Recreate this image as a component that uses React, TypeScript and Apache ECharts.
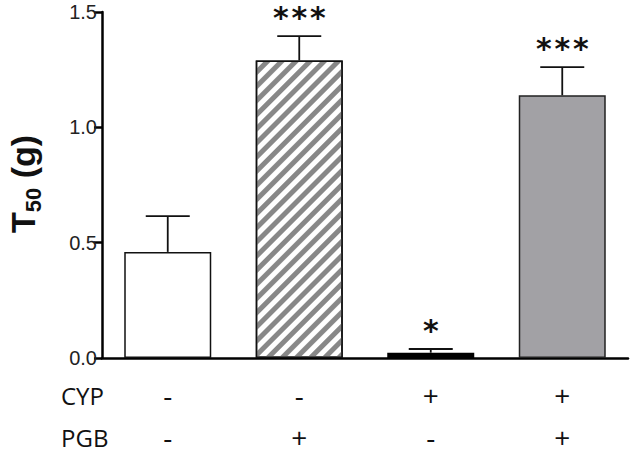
import React, { useEffect, useRef } from "react";
import * as echarts from "echarts";

const cypSigns = ["-", "-", "+", "+"];
const pgbSigns = ["-", "+", "-", "+"];
const rowLabels = ["CYP", "PGB"];
const meanValues = [0.46, 1.29, 0.023, 1.139];
const semValues = [0.155, 0.105, 0.016, 0.122];
const significance = ["", "***", "*", "***"];
const yTicks = [0, 0.5, 1.0, 1.5];

export default function App() {
  const ref = useRef<HTMLDivElement>(null);
  useEffect(() => {
    const chart = echarts.init(ref.current!, null, { renderer: "svg" });
    const categories = cypSigns.map((c, i) => c + "\n" + pgbSigns[i]);
    const barStyles = [
      { color: "#ffffff", borderColor: "#111", borderWidth: 1.5 },
      {
        color: "#ffffff",
        borderColor: "#111",
        borderWidth: 1.5,
        decal: {
          symbol: "rect",
          symbolSize: 1,
          dashArrayX: [1, 0],
          dashArrayY: [4.5, 5],
          rotation: -Math.PI / 4,
          color: "#888888",
        },
      },
      { color: "#000000", borderColor: "#000", borderWidth: 1.5 },
      { color: "#a2a1a5", borderColor: "#222", borderWidth: 1.5 },
    ];
    chart.setOption({
      animation: false,
      grid: { left: 102, right: 5, top: 12, bottom: 97, containLabel: false },
      xAxis: {
        type: "category",
        data: categories,
        axisLine: { lineStyle: { color: "#000", width: 2.5 } },
        axisTick: { alignWithLabel: true, length: 8, lineStyle: { color: "#000", width: 2.5 } },
        axisLabel: {
          margin: 16,
          lineHeight: 42,
          fontSize: 28,
          fontFamily: "Open Sans",
          color: "#111",
        },
      },
      yAxis: {
        type: "value",
        min: 0,
        max: 1.5,
        interval: 0.5,
        axisLine: { show: true, lineStyle: { color: "#000", width: 2.5 } },
        axisTick: { show: true, length: 8, lineStyle: { color: "#000", width: 2.5 } },
        splitLine: { show: false },
        axisLabel: {
          fontSize: 20,
          fontFamily: "Liberation Sans",
          color: "#222",
          margin: 5,
          formatter: (v: number) => (yTicks.includes(v) ? v.toFixed(1) : ""),
        },
      },
      graphic: [
        ...rowLabels.map((t, i) => ({
          type: "text",
          left: 61,
          top: 383 + i * 42,
          style: { text: t, fontSize: 24, fontFamily: "Open Sans", fill: "#111" },
        })),
        {
          type: "text",
          x: 22,
          y: 184,
          rotation: Math.PI / 2,
          style: {
            text: "{a|T}{b|50}{a| (g)}",
            align: "center",
            verticalAlign: "middle",
            rich: {
              a: { fontSize: 34, fontWeight: "bold", fontFamily: "Liberation Sans", fill: "#111", lineHeight: 36, verticalAlign: "bottom" },
              b: { fontSize: 22, fontWeight: "bold", fontFamily: "Liberation Sans", fill: "#111", lineHeight: 24, verticalAlign: "bottom", padding: [0, 0, -4, 0] },
            },
          },
        },
      ],
      series: [
        {
          type: "bar",
          barWidth: 87,
          data: meanValues.map((v, i) => ({ value: v, itemStyle: barStyles[i] })),
        },
        {
          type: "custom",
          data: meanValues.map((v, i) => [i, v, semValues[i]]),
          z: 5,
          renderItem: (params: any, api: any) => {
            const i = api.value(0);
            const v = api.value(1);
            const e = api.value(2);
            const base = api.coord([i, v]);
            const top = api.coord([i, v + e]);
            const hw = 22;
            const stars = significance[params.dataIndex];
            const children: any[] = [
              { type: "line", shape: { x1: base[0], y1: base[1], x2: top[0], y2: top[1] }, style: { stroke: "#111", lineWidth: 1.8 } },
              { type: "line", shape: { x1: top[0] - hw, y1: top[1], x2: top[0] + hw, y2: top[1] }, style: { stroke: "#111", lineWidth: 1.8 } },
            ];
            const n = stars.length;
            const step = 18.5;
            for (let k = 0; k < n; k++) {
              children.push({
                type: "text",
                x: top[0] + (k - (n - 1) / 2) * step,
                y: top[1] - 19,
                style: { text: "*", fontSize: 30, fontFamily: "DejaVu Sans", fontWeight: "bold", fill: "#111", align: "center", verticalAlign: "middle" },
              });
            }
            return { type: "group", children };
          },
        },
      ],
    });
    return () => chart.dispose();
  }, []);
  return <div ref={ref} style={{ width: 633, height: 458, position: "absolute", left: 0, top: 0 }} />;
}
